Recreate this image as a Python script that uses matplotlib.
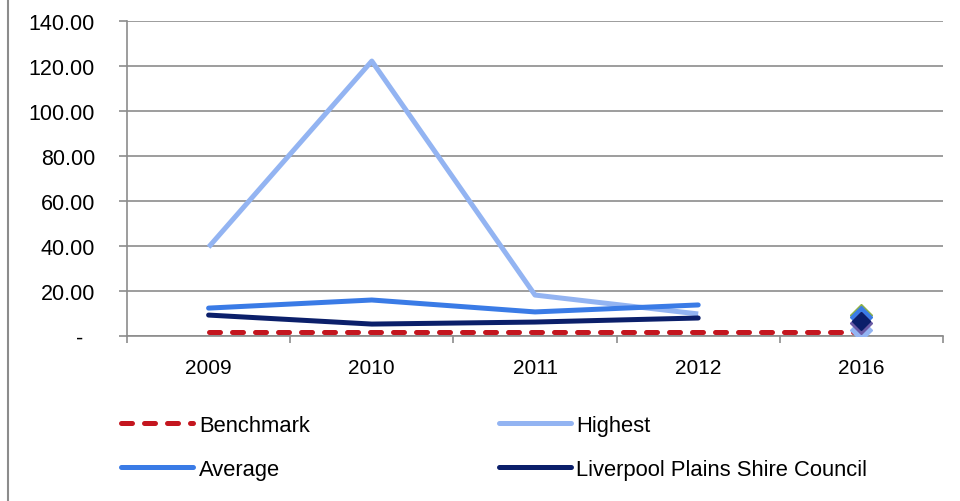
import matplotlib
matplotlib.use("Agg")
import matplotlib.pyplot as plt
from matplotlib.lines import Line2D
from matplotlib.ticker import FixedLocator, FuncFormatter

plt.rcParams['font.family'] = ['Liberation Sans', 'DejaVu Sans']

years = ['2009', '2010', '2011', '2012', '2016']
benchmark = [2.0, 2.0, 2.0, 2.0, 2.0]
highest = [39.5, 122.2, 18.2, 9.8]
average = [12.4, 16.0, 10.7, 13.8]
liverpool = [9.3, 5.3, 6.2, 8.0]

# 2016 values shown as single points only
highest_2016 = 2.5
extra_2016 = 9.5
average_2016 = 8.5
other_2016 = 5.8
liverpool_2016 = 6.8

c_bench = '#C4161F'
c_high = '#93B4F2'
c_avg = '#3A7BE6'
c_lpsc = '#0B1F6A'
c_extra = '#8DB14A'
c_other = '#6A5AA5'
grid_c = '#8C8C8C'

fig = plt.figure(figsize=(9.6, 5.02), dpi=100)
ax = fig.add_axes([127 / 960, 1 - 337 / 502, (943 - 127) / 960, (337 - 22) / 502])

x = list(range(len(years)))
lw = 3.6

ax.plot(x[:4], highest, color=c_high, lw=lw, solid_capstyle='butt', zorder=3, label='Highest')
ax.plot(x[:4], average, color=c_avg, lw=lw, solid_capstyle='round', zorder=4, label='Average')
ax.plot(x[:4], liverpool, color=c_lpsc, lw=lw, solid_capstyle='round', zorder=5,
        label='Liverpool Plains Shire Council')
ax.plot(x, benchmark, color=c_bench, lw=lw, linestyle=(0, (2.2, 2.4)),
        dash_capstyle='round', zorder=6, label='Benchmark')

ms = 11
ax.plot([x[4]], [highest_2016], marker='D', ms=ms, color=c_high, mec=c_high, zorder=7)
ax.plot([x[4]], [extra_2016], marker='D', ms=ms, color=c_extra, mec=c_extra, zorder=8)
ax.plot([x[4]], [average_2016], marker='D', ms=ms, color=c_avg, mec=c_avg, zorder=9)
ax.plot([x[4]], [other_2016], marker='D', ms=ms, color=c_other, mec=c_other, zorder=10)
ax.plot([x[4]], [liverpool_2016], marker='D', ms=ms - 2, color=c_lpsc, mec=c_lpsc, zorder=11)

ax.set_xlim(-0.5, len(years) - 0.5)
ax.set_ylim(0, 140)

yt = list(range(0, 141, 20))
ax.yaxis.set_major_locator(FixedLocator(yt))
ax.yaxis.set_major_formatter(FuncFormatter(lambda v, p: '-  ' if v == 0 else f'{v:.2f}'))
ax.grid(axis='y', color=grid_c, lw=1.2, zorder=0)
ax.set_axisbelow(True)

ax.set_xticks(x)
ax.set_xticklabels(years)
ax.set_xticks([i - 0.5 for i in range(len(years) + 1)], minor=True)
ax.tick_params(axis='x', which='major', length=0, pad=16, labelsize=15)
ax.tick_params(axis='x', which='minor', length=5, width=1.2, color=grid_c)
ax.tick_params(axis='y', length=6, width=1.2, color=grid_c, pad=17, labelsize=15.5)

for s in ['top', 'right']:
    ax.spines[s].set_visible(False)
for s in ['left', 'bottom']:
    ax.spines[s].set_color(grid_c)
    ax.spines[s].set_linewidth(1.2)

handles = [
    Line2D([], [], color=c_bench, lw=lw, linestyle=(0, (2.2, 2.4)), dash_capstyle='round'),
    Line2D([], [], color=c_avg, lw=lw, solid_capstyle='round'),
    Line2D([], [], color=c_high, lw=lw, solid_capstyle='round'),
    Line2D([], [], color=c_lpsc, lw=lw, solid_capstyle='round'),
]
labels = ['Benchmark', 'Average', 'Highest', 'Liverpool Plains Shire Council']
fig.legend(handles, labels, loc='upper left', bbox_to_anchor=(121 / 960, 1 - 416 / 502),
           ncol=2, frameon=False, fontsize=15.8, handlelength=3.3, handletextpad=0.25,
           columnspacing=8.6, labelspacing=1.05, borderpad=0, borderaxespad=0)

# outer frame edge on the left
fig.add_artist(Line2D([7.5 / 960, 7.5 / 960], [0, 1], transform=fig.transFigure,
                      color=grid_c, lw=1.5))

fig.savefig('out.png', dpi=100)
